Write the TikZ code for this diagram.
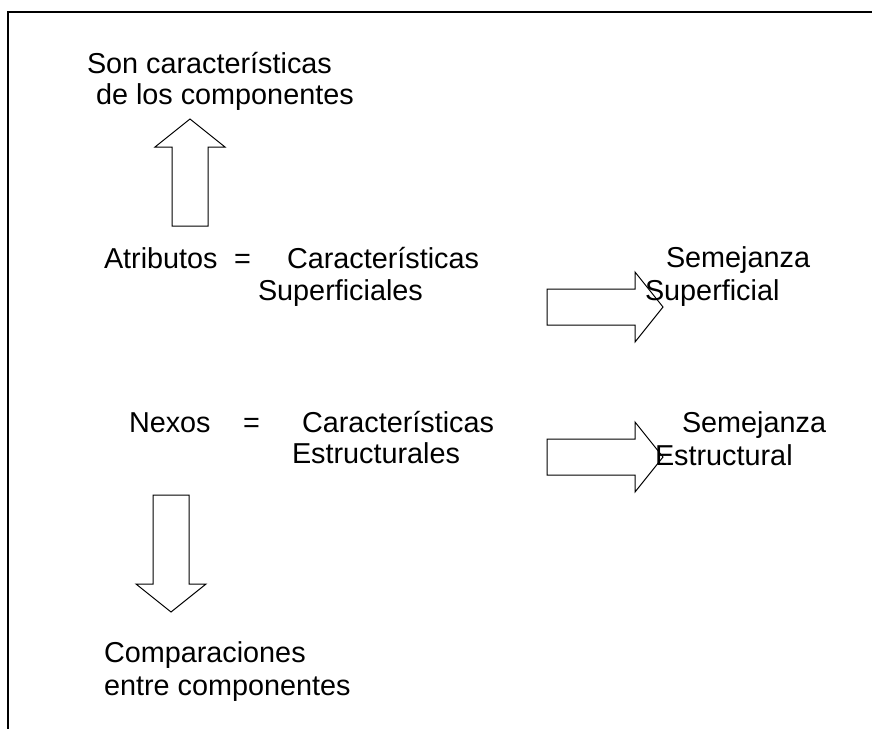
\documentclass[tikz,border=0pt]{standalone}
\usepackage{fontspec}
\setmainfont{Liberation Sans}
\tikzset
{%
txt/.style={inner sep=0pt, outer sep=0pt, anchor=base west, font=\fontsize{28.8}{34}\selectfont},
frame/.style={draw, line width=1.7pt},
fatarrow/.pic={
	\draw[line width=1pt, line join=miter] (0,-18) -- (#1,-18) -- (#1,-35) -- (#1+28,0)
	-- (#1,35) -- (#1,18) -- (0,18) -- cycle;
}
}
\begin{document}
\begin{tikzpicture}[x=1pt, y=-1pt]
		\clip (0,0) rectangle (872,728);
		\path[frame] (8,12) rectangle (900,760);
		
		%Top
		\node[txt] (son) at (87,73) {Son características};
		\node[txt] (comp1) at (96,104) {de los componentes};
		\pic[rotate=90] at (190,226) {fatarrow=79};
		
		%Atributos
		\node[txt] (atr) at (104,268) {Atributos};
		\node[txt] (eq1) at (234,268) {=};
		\node[txt] (car1) at (287,268) {Características};
		\node[txt] (sup) at (258,300) {Superficiales};
		\pic at (547,307) {fatarrow=88};
		\node[txt] (sem1) at (666,267) {Semejanza};
		\node[txt] (supf) at (645,300) {Superficial};
		
		%Nexos
		\node[txt] (nex) at (129,432) {Nexos};
		\node[txt] (eq2) at (243,432) {=};
		\node[txt] (car2) at (302,432) {Características};
		\node[txt] (est) at (292,463) {Estructurales};
		\pic at (547,457) {fatarrow=88};
		\node[txt] (sem2) at (682,432) {Semejanza};
		\node[txt] (estr) at (655,465) {Estructural};
		
		%Bottom
		\pic[rotate=-90] at (171,495) {fatarrow=89};
		\node[txt] (cmp) at (104,662) {Comparaciones};
		\node[txt] (comp2) at (104,695) {entre componentes};
	\end{tikzpicture}
\end{document}
